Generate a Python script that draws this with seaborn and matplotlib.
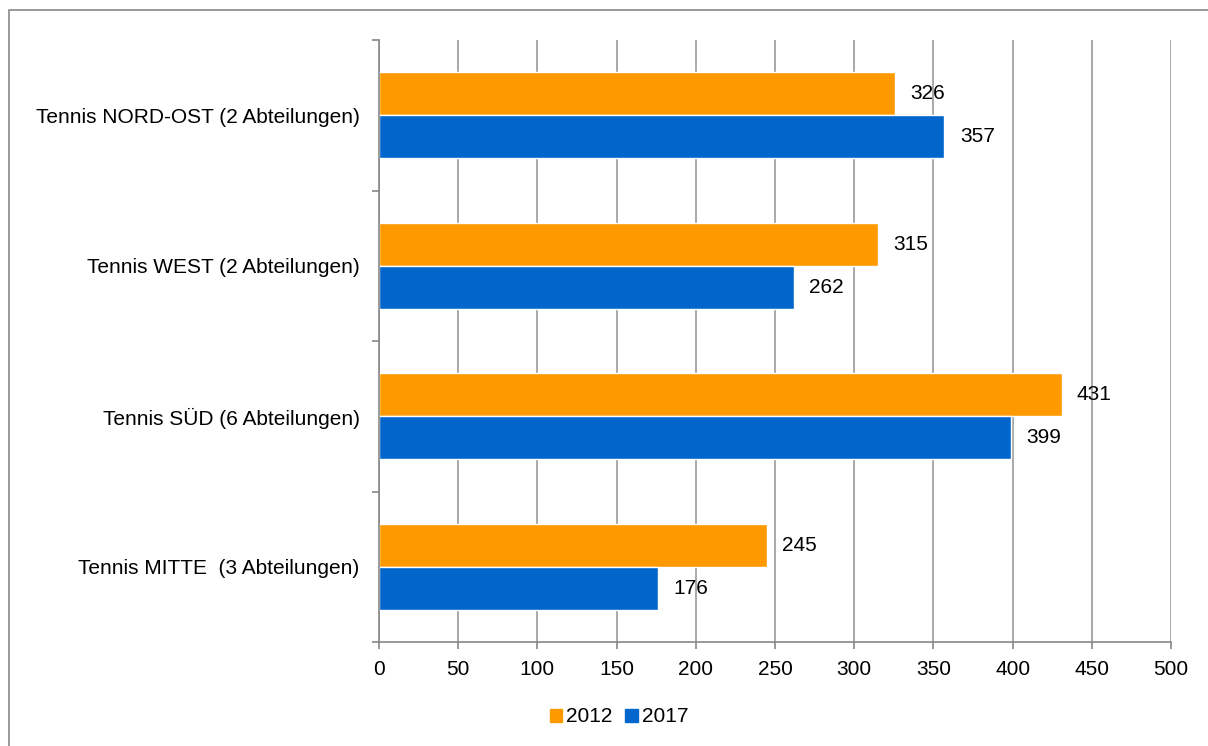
import matplotlib
matplotlib.use('Agg')
import matplotlib.pyplot as plt
import matplotlib.patches as mpatches
import seaborn as sns
import pandas as pd

categories = ['Tennis NORD-OST (2 Abteilungen)', 'Tennis WEST (2 Abteilungen)',
              'Tennis SÜD (6 Abteilungen)', 'Tennis MITTE  (3 Abteilungen)']
years = ['2012', '2017']
values_2012 = [326, 315, 431, 245]
values_2017 = [357, 262, 399, 176]
colors = ['#FF9900', '#0066CC']

df = pd.DataFrame({
    'category': categories * 2,
    'year': [years[0]] * 4 + [years[1]] * 4,
    'value': values_2012 + values_2017,
})

sns.set_style('white')
plt.rcParams['font.family'] = ['Liberation Sans', 'DejaVu Sans']
plt.rcParams['text.color'] = 'black'
plt.rcParams['xtick.color'] = 'black'
plt.rcParams['ytick.color'] = 'black'

fig = plt.figure(figsize=(12.08, 7.46), dpi=100)
ax = fig.add_axes([379 / 1208, 1 - 642 / 746, (1171 - 379) / 1208, (642 - 40) / 746])

sns.barplot(data=df, y='category', x='value', hue='year', order=categories,
            hue_order=years, palette=colors, orient='h', width=0.57,
            saturation=1, ax=ax, legend=False, zorder=2)

ax.set_xlim(0, 500)
ax.set_ylim(3.5, -0.5)
ax.set_xticks(range(0, 501, 50))
ax.set_yticks([-0.5, 0.5, 1.5, 2.5, 3.5], minor=False)
ax.set_yticklabels([])
ax.set_yticks(range(4), minor=True)
ax.set_yticklabels(categories, minor=True, fontsize=15)
ax.tick_params(axis='y', which='minor', length=0, pad=14)
ax.tick_params(axis='y', which='major', length=5, color='#888888', width=1.2, direction='out', left=True)
ax.tick_params(axis='x', length=5, color='#888888', labelcolor='black', width=1.2, labelsize=15, pad=8, bottom=True)
ax.set_xlabel('')
ax.set_ylabel('')
ax.xaxis.grid(True, color='#999999', linewidth=1.2, zorder=0)
ax.set_axisbelow(True)
for side in ['top', 'right']:
    ax.spines[side].set_visible(False)
for side in ['left', 'bottom']:
    ax.spines[side].set_color('#888888')
    ax.spines[side].set_linewidth(1.2)

for container in ax.containers:
    ax.bar_label(container, padding=11, fontsize=15, color='black', zorder=5)

handles = [mpatches.Patch(color=c, label=y) for c, y in zip(colors, years)]
fig.legend(handles=handles, loc='center', bbox_to_anchor=(619 / 1208, 1 - 717 / 746),
           ncol=2, frameon=False, fontsize=15, handlelength=0.6, handleheight=0.6,
           handletextpad=0.2, columnspacing=0.6)

fig.patches.append(mpatches.Rectangle((9 / 1208, -0.1), 1.1, 0.1 + 1 - 10 / 746,
                                      transform=fig.transFigure, fill=False,
                                      edgecolor='#888888', linewidth=1.2))

fig.savefig('out.png', dpi=100)
